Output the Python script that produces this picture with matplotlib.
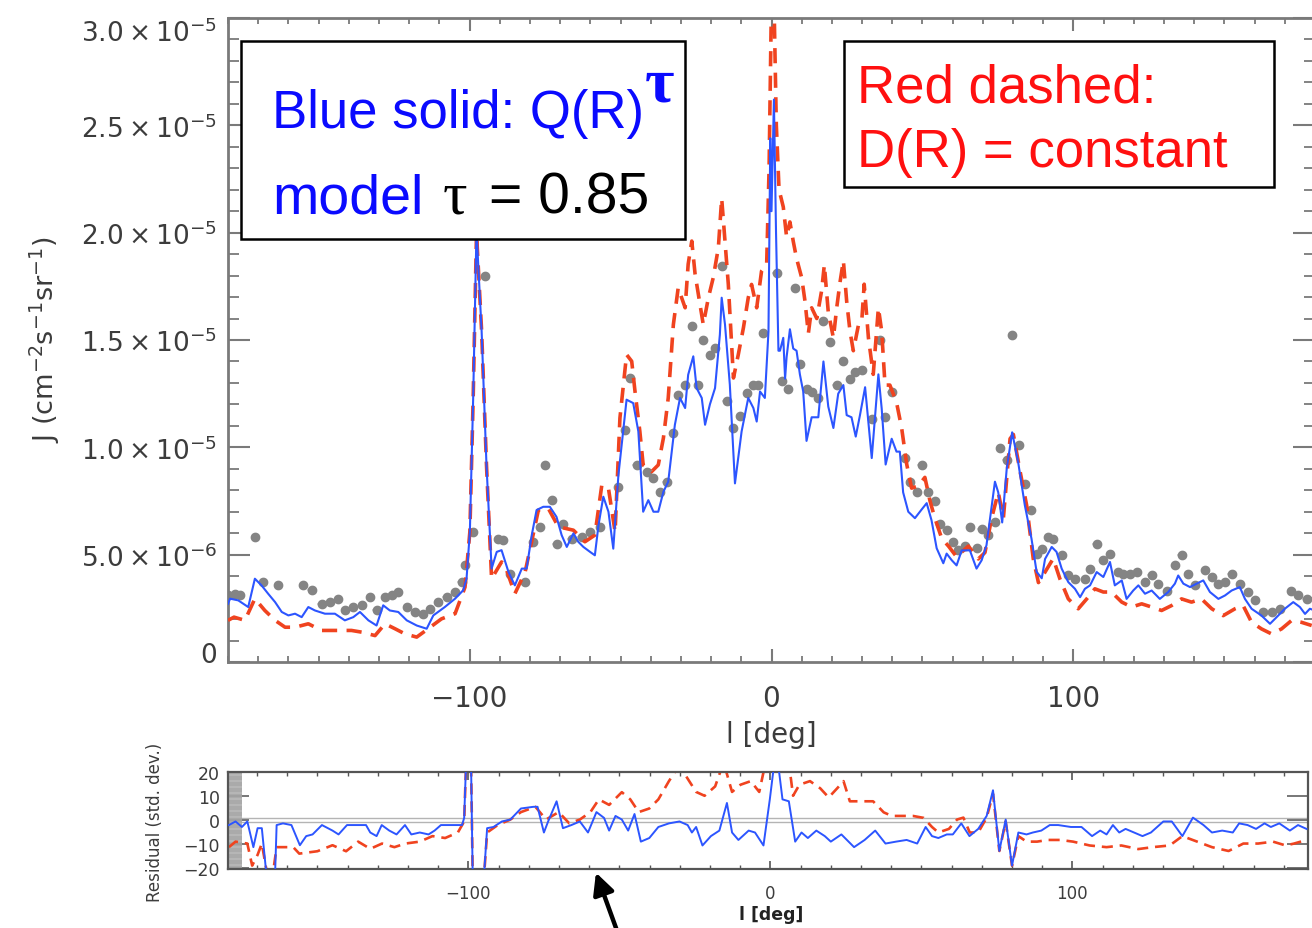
import numpy as np
import matplotlib.pyplot as plt
from matplotlib.ticker import MultipleLocator, FixedLocator
from matplotlib.patches import Rectangle

# longitude (deg) and intensity (1e-6 cm^-2 s^-1 sr^-1) of the Q(R)^tau model
blue_l = [-180, -179.3, -176.6, -173.3, -171.1, -168.9, -166.7, -164.4, -162.2, -160, -157.8, -155.6,
          -153.4, -151.2, -147.9, -144.6, -141.3, -138.5, -136.3, -133.5, -130.8, -128.6, -126.4, -123.6,
          -120.8, -117.5, -114.2, -112, -108.2, -104.8, -102.1, -101, -99.9, -98.8, -97.7, -96, -94.4,
          -92.7, -91, -89.4, -87.1, -85, -82.7, -81.1, -79.4, -77.8, -75.6, -73.4, -71.2, -69.5, -67.8,
          -65.6, -64, -62.3, -60.1, -58.5, -57.3, -55.7, -54, -52.4, -50.7, -48, -45.8, -44.1, -42.5,
          -40.8, -39.1, -37.5, -35.8, -34.2, -32, -30.3, -28.6, -27.6, -25.9, -24.8, -23.1, -22, -20.4,
          -18.7, -17.1, -16.5, -15.4, -13.8, -12.1, -9.9, -7.7, -6, -4.9, -3.8, -2.2, -1.0, -0.4, 0.0,
          0.8, 1.5, 2.3, 2.8, 3.9, 4.5, 5.0, 6.1, 7.2, 8.3, 9.4, 10.5, 11.6, 13.3, 15.5, 17.2, 18.8,
          20.5, 22.1, 23.8, 24.9, 26.5, 27.9, 29.3, 31, 33.2, 35.4, 36.5, 37.8, 39.8, 41.4, 42.5, 43.6,
          45.3, 47.5, 49.7, 51.4, 53.0, 54.7, 56.9, 58.0, 59.7, 61.3, 63.0, 65.7, 67.9, 69.6, 71.2, 74.0,
          75.1, 76.4, 77.9, 79.7, 81.7, 83.9, 86.1, 87.8, 89.5, 90.6, 92.8, 94.4, 96.1, 98.3, 100.5,
          102.2, 103.8, 105.5, 107.7, 109.9, 112.1, 113.7, 116, 117.6, 119.8, 121.5, 123.7, 125.9, 128.6,
          131.4, 133.6, 134.7, 136.4, 138.6, 140.8, 143, 145.2, 148, 150.2, 152.4, 155.1, 156.8, 159,
          162.3, 165.1, 167.3, 170, 172.8, 175, 176.7, 178.3, 180]
blue_j = [2.71, 2.95, 2.87, 2.56, 3.88, 3.57, 3.18, 2.79, 2.33, 2.17, 2.25, 2.09, 2.56, 2.40, 2.25, 2.25,
          1.94, 2.09, 2.33, 1.94, 1.70, 2.64, 2.40, 2.33, 1.94, 1.70, 1.55, 2.17, 2.56, 2.95, 3.34, 3.88,
          6.06, 12.3, 20.1, 15.4, 9.2, 4.35, 5.13, 5.21, 4.19, 3.57, 4.35, 4.35, 5.91, 7.08, 7.23, 7.23,
          6.76, 5.91, 5.36, 5.99, 5.60, 5.36, 5.13, 4.97, 6.37, 7.70, 7.0, 5.28, 8.71, 12.22, 12.06, 10.74,
          7.0, 7.54, 7.0, 7.0, 7.93, 8.40, 11.05, 12.3, 11.83, 13.38, 14.24, 12.76, 12.3, 11.05, 12.0,
          12.76, 15.25, 16.97, 15.72, 12.92, 8.32, 10.74, 12.3, 11.83, 11.2, 12.6, 12.3, 15.4, 24.4, 21.0,
          26.2, 20.0, 14.5, 14.5, 15.1, 13.2, 14.2, 15.5, 14.6, 14.5, 13.4, 12.6, 10.3, 11.4, 11.4, 14.0,
          11.9, 10.9, 12.5, 12.9, 11.5, 11.4, 10.5, 11.5, 12.8, 9.5, 13.4, 11.8, 9.2, 10.4, 9.8, 9.8,
          7.9, 7.0, 6.7, 7.1, 7.4, 6.6, 5.3, 4.6, 5.05, 4.74, 4.5, 5.2, 5.2, 4.35, 4.74, 5.44, 8.4,
          7.9, 6.5, 9.0, 10.7, 9.3, 7.3, 5.75, 4.2, 3.9, 4.8, 5.36, 5.13, 4.35, 3.72, 3.41, 3.02, 3.41,
          3.57, 4.19, 3.96, 4.66, 3.57, 3.8, 2.94, 3.33, 3.57, 3.18, 3.33, 2.94, 3.26, 3.65, 4.03, 3.65,
          3.49, 3.65, 3.8, 3.26, 2.94, 3.1, 3.33, 3.49, 2.94, 2.48, 2.16, 1.78, 2.09, 2.48, 2.79, 2.56,
          2.24, 2.48, 2.4]

# constant diffusion model
red_l = [-180, -178, -174.4, -171.1, -167.8, -164.4, -161.1, -157.8, -153.4, -149, -144.6, -139.1,
         -135.7, -131.3, -128, -124.7, -121.4, -117.5, -113.7, -109.3, -104.8, -101.5, -99.9, -98.8,
         -97.7, -96, -94.4, -92.7, -89.4, -88.3, -85, -81.6, -77.2, -73.9, -70.6, -65.6, -61.8, -58.5,
         -56.2, -54, -51.8, -50.2, -48, -46.3, -45.2, -43.6, -42.5, -39.7, -37.5, -35.8, -34.2, -32.5,
         -30.9, -28.6, -27.6, -26.4, -25.3, -23.7, -22.6, -20.9, -19.3, -17.6, -16.5, -15.4, -14.3,
         -12.6, -11, -9.3, -7.7, -6.6, -4.9, -3.3, -1.6, -0.8, 0, 0.8, 1.6, 2.5, 3.9, 5.0, 6.1, 7.2,
         8.3, 10, 11.1, 12.2, 13.3, 15, 16.6, 17.5, 18.8, 20.5, 21.6, 22.7, 23.8, 24.9, 26, 27.1, 28.8,
         29.9, 30.7, 32.1, 33.7, 35.4, 36.5, 37.6, 39.2, 41.4, 43.1, 44.8, 46.4, 48.6, 50.8, 52.5, 54.1,
         56.4, 58.6, 61.3, 65.2, 68.5, 70.7, 72.9, 75.1, 76.8, 79, 80.1, 82.3, 84.5, 86.7, 88.4, 90.6,
         93.3, 95.5, 98.3, 101.6, 104.4, 107.1, 109.9, 112.6, 116, 119.3, 122.6, 125.9, 129.2, 132.5,
         135.8, 139.1, 142.4, 145.8, 149.6, 153.5, 156.2, 159, 162.3, 165.6, 168.9, 172.2, 175.5, 178.9]
red_j = [1.94, 2.09, 1.94, 2.95, 2.40, 1.94, 1.62, 1.62, 1.78, 1.47, 1.47, 1.47, 1.39, 1.23, 1.78, 1.55,
         1.31, 1.16, 1.55, 2.01, 2.25, 3.49, 6.06, 12.3, 20.0, 15.4, 9.2, 3.88, 4.66, 4.51, 3.18, 4.19,
         7.08, 7.15, 6.30, 6.14, 5.60, 5.91, 8.24, 8.09, 6.06, 11.36, 14.32, 14.01, 12.6, 10.74, 9.18,
         8.87, 9.18, 10.43, 12.3, 15.72, 17.43, 16.5, 18.53, 19.61, 18.06, 16.66, 15.72, 16.97, 17.9,
         19.3, 21.6, 19.61, 17.59, 13.23, 14.32, 15.57, 16.97, 17.59, 16.5, 18.21, 18.53, 23.0, 31.0,
         31.0, 25.0, 22.0, 21.2, 19.8, 20.5, 19.6, 18.8, 17.9, 16.8, 15.3, 16.5, 16.0, 17.3, 18.5, 16.3,
         15.1, 16.5, 17.7, 18.7, 16.8, 15.4, 14.5, 15.7, 15.9, 17.6, 15.1, 13.4, 16.5, 15.4, 12.9, 12.9,
         12.1, 10.9, 9.2, 8.1, 8.2, 8.6, 7.5, 6.7, 5.75, 5.4, 4.9, 5.4, 4.8, 5.1, 6.7, 7.9, 6.7, 10.4,
         10.6, 8.9, 7.3, 4.8, 3.7, 4.19, 4.82, 3.88, 2.94, 2.48, 2.94, 3.41, 3.26, 3.26, 2.79, 2.56,
         2.71, 2.56, 2.4, 2.63, 2.94, 2.79, 2.94, 2.48, 2.16, 2.48, 2.63, 1.85, 1.54, 1.31, 1.54, 1.93,
         1.85, 1.70]

# measured intensities
data_l = [-179.9, -177.7, -176, -171.1, -168.3, -163.3, -155.1, -152.3, -149, -146.2, -143.5, -141.3,
          -138.5, -135.7, -133, -130.8, -128, -125.8, -123.6, -120.8, -118.1, -115.3, -113.1, -110.4,
          -107.6, -104.8, -102.6, -101.5, -98.8, -94.9, -90.5, -88.8, -86.6, -81.6, -78.9, -76.7, -75,
          -72.8, -71.2, -68.9, -66.2, -62.9, -60.1, -56.8, -50.7, -48.5, -46.9, -44.7, -41.3, -39.1,
          -36.9, -34.7, -32.5, -30.9, -28.6, -26.4, -24.2, -22.6, -20.4, -18.7, -16.5, -14.9, -12.6,
          -10.4, -8.2, -6, -4.4, -2.7, 1.7, 3.4, 5.6, 7.8, 9.4, 11.6, 13.3, 15.5, 17.2, 19.4, 21.6,
          23.8, 26, 27.6, 29.9, 33.2, 35.9, 37.6, 39.8, 44.2, 45.9, 48.1, 49.7, 51.9, 54.1, 55.8, 58,
          60.2, 61.9, 64.1, 65.7, 67.9, 69.6, 71.8, 74, 75.7, 77.9, 79.7, 82, 84, 86.1, 87.8, 89.5,
          91.7, 93.3, 96.1, 98.3, 100.5, 103.8, 105.5, 107.7, 109.9, 112.1, 114.8, 116.5, 118.7, 120.9,
          123.7, 125.9, 128.1, 130.9, 133.6, 135.8, 138, 140.2, 143.5, 145.8, 148, 150.2, 152.4, 155.1,
          157.9, 160.1, 162.9, 165.6, 168.4, 172.2, 174.5, 177.2]
data_j = [3.10, 3.18, 3.10, 5.83, 3.73, 3.57, 3.57, 3.34, 2.71, 2.79, 2.95, 2.40, 2.56, 2.64, 3.03, 2.40,
          3.03, 3.10, 3.26, 2.56, 2.33, 2.25, 2.48, 2.79, 3.03, 3.26, 3.73, 4.51, 6.06, 17.98, 5.75,
          5.67, 4.12, 3.73, 5.6, 6.30, 9.18, 7.54, 5.52, 6.45, 5.75, 5.83, 6.06, 6.30, 8.17, 10.82,
          13.23, 9.18, 8.87, 8.56, 7.93, 8.40, 10.66, 12.45, 12.92, 15.64, 12.92, 15.02, 14.32, 14.63,
          18.45, 12.14, 10.89, 11.44, 12.53, 12.92, 12.92, 15.33, 18.1, 13.1, 12.7, 17.4, 13.9, 12.7,
          12.6, 12.3, 15.9, 14.9, 12.9, 14.0, 13.2, 13.5, 13.6, 11.3, 15.0, 11.4, 12.6, 9.5, 8.4, 7.9,
          9.2, 7.9, 7.5, 6.45, 6.14, 5.6, 5.2, 5.4, 6.3, 5.3, 6.2, 5.9, 6.5, 9.96, 9.4, 15.25, 10.1,
          8.3, 7.08, 5.05, 5.28, 5.83, 5.75, 4.97, 4.03, 3.88, 3.88, 4.35, 5.52, 4.74, 5.05, 4.19, 4.11,
          4.11, 4.19, 3.72, 4.03, 3.65, 3.33, 4.5, 4.97, 4.11, 3.57, 4.27, 3.96, 3.65, 3.72, 4.11, 3.65,
          3.26, 2.87, 2.32, 2.32, 2.48, 3.33, 3.1, 2.94]

# residuals in units of the standard deviation
res_blue_l = [-179.3, -177.1, -175, -173.2, -171.2, -169.8, -168.4, -166.3, -164.2, -163.5, -161.4,
              -158.6, -155.8, -153.7, -151.6, -148.5, -145, -143, -140.2, -136.7, -133.9, -132.5, -130.4,
              -128.7, -126.2, -123.8, -121, -118.9, -116.1, -113.2, -111.2, -109.1, -105.5, -102.1,
              -101.4, -100.6, -99.2, -98.5, -95.2, -93.8, -91.7, -88.9, -86.1, -82.6, -78.5, -77.1, -75,
              -73.6, -70.8, -68.7, -65.9, -63.1, -60.4, -57.6, -55.1, -53.4, -51.3, -49.2, -47.1, -45,
              -42.9, -40.1, -37.1, -33.6, -30.1, -27.4, -26, -24.6, -22.5, -19.7, -16.9, -14.4, -12.7,
              -10.6, -7.2, -5.1, -2.3, -0.2, 1.9, 4, 6.1, 8.2, 10.3, 12.4, 15.2, 18, 20, 23.5, 27.7,
              31.2, 34.7, 38.1, 41.6, 45.1, 48.6, 51.4, 53.5, 55.6, 58.4, 60.4, 63.2, 65.9, 68.8, 71.6,
              73.7, 75.8, 77.9, 80, 82.1, 84.8, 86.9, 89.7, 92.5, 95.3, 99.5, 103, 106.5, 109.2, 111.3,
              113.4, 115.5, 117.6, 120.4, 123.2, 126, 130.1, 132.9, 136.4, 139.9, 143.4, 146.2, 149.6,
              153.1, 155.2, 158, 160.8, 163.6, 165.7, 168.5, 172, 174.7, 177.5]
res_blue = [-2.1, -0.6, -2.9, -0.6, -11.3, -3.4, -3.4, -30, -30, -2.1, -1.4, -2.1, -10.5, -6.7, -6.0,
            -2.1, -4.4, -6.0, -2.1, -2.1, -2.1, -5.2, -6.7, -2.1, -4.4, -6.0, -2.1, -6.0, -5.2, -6.0,
            -4.4, -2.1, -2.1, -2.1, 0.9, 30, 30, -30, -30, -3.4, -2.9, -0.6, 0.2, 4.8, 5.5, 5.5, -5.2,
            -0.6, 7.8, -3.4, -2.1, -0.6, -5.2, 3.3, 0.9, -4.4, 1.7, 0.2, -4.4, 2.5, -9.0, -7.5, -2.9,
            -1.4, -0.6, -2.1, -5.2, -2.9, -10.6, -6.7, -4.4, 7.1, -5.2, -8.3, -4.4, -5.2, -10.6, 8.6,
            30, 8.6, 7.8, -9.0, -5.2, -7.5, -4.4, -6.7, -9.0, -6.0, -11.3, -8.3, -4.4, -9.8, -9.0, -8.3,
            -9.8, -2.9, -6.7, -7.5, -6.0, -6.0, -1.4, -6.7, -3.7, 1.7, 12.4, -12.9, 0.2, -19, -5.2,
            -6.0, -5.2, -4.4, -2.1, -2.1, -2.9, -2.9, -6.7, -4.4, -6.0, -2.1, -5.2, -3.7, -5.2, -6.7,
            -5.2, -0.6, -0.6, -6.7, 1.0, -2.1, -5.2, -4.4, -5.2, -1.4, -2.1, -3.7, -1.4, -2.9, -1.4,
            -4.4, -2.1, -3.7]

res_red_l = [-179.3, -177.1, -173.2, -171.6, -169.8, -168.4, -165.6, -163.5, -158, -156, -150, -145,
             -140.5, -136.5, -132.5, -128.6, -124.5, -120.9, -116.1, -111.9, -107.7, -103.5, -101.4,
             -100.6, -99.2, -98.5, -95.2, -93.8, -90.3, -86.1, -82.6, -77.8, -74.3, -70.1, -66.6,
             -63.1, -59.6, -56.8, -53.4, -49.2, -46.4, -43.6, -40.1, -37.1, -33.6, -30.8, -28.1,
             -24.6, -21.8, -18.3, -15.5, -12.7, -9.9, -6.5, -3.7, -1.6, 1.9, 6.1, 7.5, 9.6, 13.1,
             16.5, 19.3, 22.1, 24.2, 26.3, 31.2, 34, 37.5, 40.2, 43.7, 47.2, 50.7, 53.5, 55.6, 59.1,
             61.8, 63.9, 66, 68.8, 71.6, 73.7, 75.8, 77.9, 80, 82.1, 84.8, 88.3, 91.8, 96, 100.2,
             105.7, 111.3, 116.2, 121.8, 126.6, 132.2, 136.4, 141.3, 146.2, 151.7, 156.6, 161.5,
             166.4, 170.6, 173.4, 177.5]
res_red = [-11.3, -9.0, -9.8, -19, -14.5, -9.8, -30, -11.3, -11.3, -14, -13, -10.5, -13, -9, -12,
           -9.8, -11.3, -9.8, -9, -6.7, -7.5, -5.2, -0.6, 30, 30, -30, -30, -5.2, -2.1, 0.2, 3.3,
           5.5, 0.2, 3.3, -1.4, 0.2, 3.3, 8.6, 6.3, 11.6, 8.6, 3.3, 4.8, 8.6, 16.2, 21.6, 18.6, 11.7,
           10.1, 14, 24, 11.7, 14.7, 16.2, 11.7, 24, 30, 24, 10.1, 14.7, 16.2, 13.2, 9.4, 13.2, 16.2,
           7.8, 7.8, 7.8, 3.2, 1.7, 1.7, 1.7, 0.9, -2.9, -5.2, -3.7, 0.2, 1.0, -5.2, -5.2, 1.0, 10.9,
           -12.9, -0.6, -19, -6.7, -9.0, -9.0, -8.3, -8.3, -9.0, -10.6, -11.3, -10.6, -12.1, -11.3,
           -10.6, -6.7, -9.0, -11.3, -12.9, -9.8, -9.8, -9.0, -10.6, -9.8, -8.3]

ytick_vals = [0, 5e-6, 1.0e-5, 1.5e-5, 2.0e-5, 2.5e-5, 3.0e-5]
ytick_text = ['0', r'$5.0\times10^{-6}$', r'$1.0\times10^{-5}$', r'$1.5\times10^{-5}$',
              r'$2.0\times10^{-5}$', r'$2.5\times10^{-5}$', r'$3.0\times10^{-5}$']
res_ticks = [-20, -10, 0, 10, 20]
res_tick_text = ['\u221220', '\u221210', '0', '10', '20']

W, H = 1312, 929
BLUE = '#2c55ff'
RED = '#f0431f'
AXC = '#7a7a7a'
TXT = '#3c3c3c'

plt.rcParams['font.family'] = 'DejaVu Sans'
fig = plt.figure(figsize=(W / 100, H / 100), dpi=100)


def fxy(x, y):
    # pixel position -> figure fraction
    return x / W, 1 - y / H


# ---- main panel ----
ax = fig.add_axes([228 / W, 1 - 663 / H, 1087 / W, 644 / H])
dl = np.array(data_l)
dj = np.array(data_j) * 1e-6
ax.errorbar(dl, dj, xerr=1.4, fmt='o', ms=6, color='#848484', mec='#848484',
            ecolor='#d8d8d8', elinewidth=1.5, capsize=0, zorder=2)
ax.plot(red_l, np.array(red_j) * 1e-6, color=RED, lw=2.6, dashes=(4.2, 2.6), zorder=3)
ax.plot(blue_l, np.array(blue_j) * 1e-6, color=BLUE, lw=1.5, zorder=4)

ax.set_xlim(-180, 180)
ax.set_ylim(0, 3.0e-5)
ax.set_xticks([-100, 0, 100])
ax.set_xticklabels(['\u2212100', '0', '100'], fontsize=20, color=TXT)
ax.xaxis.set_minor_locator(MultipleLocator(10))
ax.yaxis.set_major_locator(FixedLocator(ytick_vals))
ax.set_yticklabels(ytick_text, fontsize=19, color=TXT)
ylabs = ax.get_yticklabels()
ylabs[0].set_va('baseline')
ylabs[-1].set_va('top')
ax.yaxis.set_minor_locator(MultipleLocator(1e-6))
ax.tick_params(axis='x', which='major', direction='in', length=9.5, width=1.5, color=AXC,
               top=True, pad=16)
ax.tick_params(axis='x', which='minor', direction='in', length=4.5, width=1.3, color=AXC, top=True)
ax.tick_params(axis='y', which='major', direction='in', length=16, width=1.5, color=AXC,
               right=True, pad=8)
ax.tick_params(axis='y', which='minor', direction='in', length=8, width=1.3, color=AXC, right=True)
for s in ax.spines.values():
    s.set_color(AXC)
    s.set_linewidth(2)

fig.text(*fxy(771, 735), 'l [deg]', fontsize=20, color=TXT, ha='center', va='center')
fig.text(*fxy(45, 340), r'J (cm$^{-2}$s$^{-1}$sr$^{-1}$)', fontsize=19.5, color=TXT,
         rotation=90, ha='center', va='center')

# ---- legend boxes ----
for x0, y0, x1, y1 in [(241, 42, 685, 240), (844, 42, 1274, 188)]:
    fig.patches.append(Rectangle(fxy(x0, y1), (x1 - x0) / W, (y1 - y0) / H, facecolor='white',
                                 edgecolor='black', lw=1.8, transform=fig.transFigure, zorder=5))

SANS = 'Liberation Sans'
SERIF = 'Liberation Serif'
fig.text(*fxy(272, 128), 'Blue solid: Q(R)', fontsize=38, color='#0a0aff', family=SANS,
         va='baseline', zorder=6)
fig.text(*fxy(645, 101), '\u03c4', fontsize=46, color='#0a0aff', family=SERIF,
         weight='bold', va='baseline', zorder=6)
fig.text(*fxy(272, 214), 'model', fontsize=40, color='#0a0aff', family=SANS, va='baseline', zorder=6)
fig.text(*fxy(443, 214), '\u03c4', fontsize=44, color='black', family=SERIF, va='baseline', zorder=6)
fig.text(*fxy(489, 214), '= 0.85', fontsize=41, color='black', family=SANS, va='baseline', zorder=6)
fig.text(*fxy(857, 103), 'Red dashed:', fontsize=38, color='#ff1010', family=SANS,
         va='baseline', zorder=6)
fig.text(*fxy(857, 167), 'D(R) = constant', fontsize=38, color='#ff1010', family=SANS,
         va='baseline', zorder=6)

# ---- residual panel ----
ax2 = fig.add_axes([228 / W, 1 - 870 / H, 1080 / W, 97 / H])
ax2.axhline(-1, color='#b4b4b4', lw=1, zorder=1)
ax2.axhline(1, color='#b4b4b4', lw=1, zorder=1)
ax2.plot(res_red_l, res_red, color=RED, lw=1.9, dashes=(4.2, 2.6), zorder=2)
ax2.plot(res_blue_l, res_blue, color=BLUE, lw=1.4, zorder=3)
ax2.set_xlim(-179.6, 178)
ax2.set_ylim(-20.4, 20)
ax2.set_xticks([-100, 0, 100])
ax2.set_xticklabels(['\u2212100', '0', '100'], fontsize=12, color=TXT)
ax2.xaxis.set_minor_locator(MultipleLocator(10))
ax2.set_yticks(res_ticks)
ax2.set_yticklabels(res_tick_text, fontsize=12.5, color=TXT)
ax2.yaxis.set_minor_locator(MultipleLocator(0.5))
ax2.tick_params(axis='x', which='major', direction='in', length=6, width=1.2, color='#555555',
                top=True, pad=11)
ax2.tick_params(axis='x', which='minor', direction='in', length=3, width=1.0, color='#555555', top=True)
ax2.tick_params(axis='y', which='major', direction='in', length=15, width=1.4, color='#777777',
                right=True, pad=6)
ax2.tick_params(axis='y', which='minor', direction='in', length=10, width=1.2, color='#a8a8a8',
                right=False)
for s in ax2.spines.values():
    s.set_color('#555555')
    s.set_linewidth(1.6)

fig.text(*fxy(771, 915), 'l [deg]', fontsize=12.5, color='#222222', weight='bold',
         ha='center', va='center')
fig.text(*fxy(155, 822), 'Residual (std. dev.)', fontsize=12, color=TXT, rotation=90,
         ha='center', va='center')

ax2.annotate('', xy=fxy(595, 871), xycoords='figure fraction',
             xytext=fxy(620, 940), textcoords='figure fraction',
             arrowprops=dict(arrowstyle='-|>', lw=3.2, color='black', mutation_scale=32),
             annotation_clip=False)

fig.savefig('out.png', dpi=100)
